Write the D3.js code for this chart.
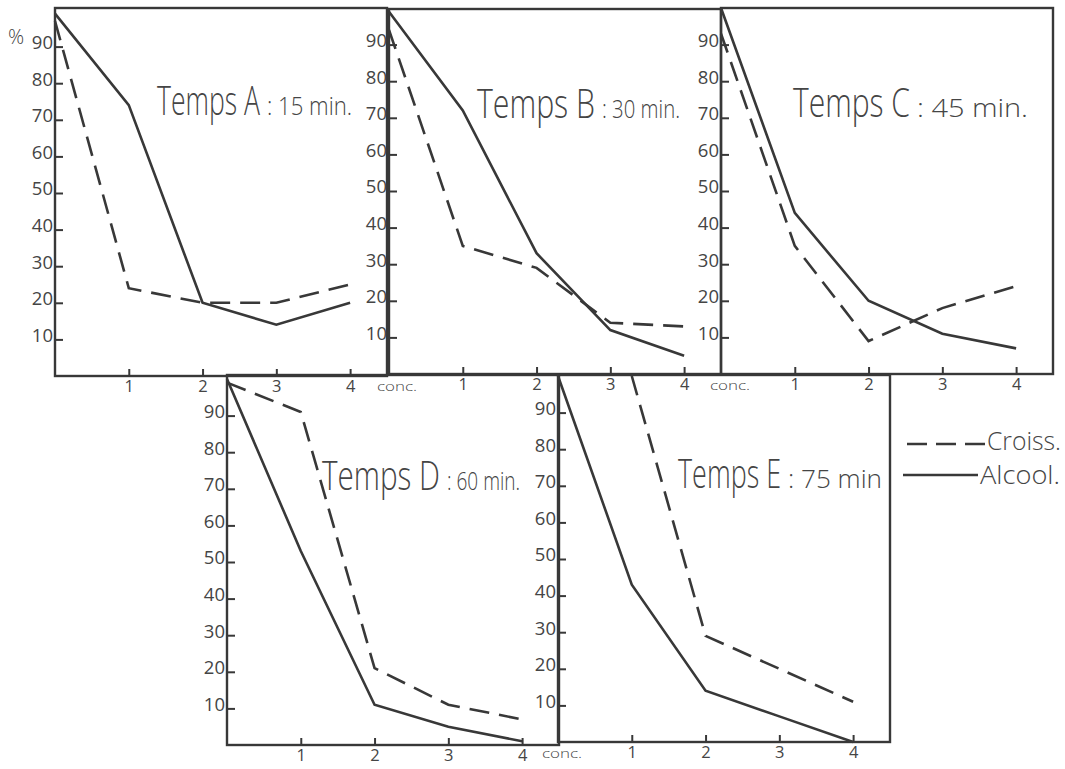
<!DOCTYPE html>
<html>
<head>
<meta charset="utf-8">
<script src="https://cdn.jsdelivr.net/npm/d3@7"></script>
<style>
  html, body { margin: 0; padding: 0; background: #fff; }
  svg { display: block; }
  text { font-family: "Open Sans", "Liberation Sans Narrow", "DejaVu Sans Condensed", sans-serif; font-weight: 300; fill: #454545; }
  .num { font-family: "Open Sans", "Liberation Sans", sans-serif; font-weight: 400; }
</style>
</head>
<body>
<svg id="chart" width="1065" height="769"></svg>
<script>
// ---------- data ----------
const concs = [0, 1, 2, 3, 4];
const xTickValues = [1, 2, 3, 4];
const yTickValues = [10, 20, 30, 40, 50, 60, 70, 80, 90];
const panelLetters = ["A", "B", "C", "D", "E"];
const panelTimes = ["15 min.", "30 min.", "45 min.", "60 min.", "75 min"];
const seriesNames = ["Croiss.", "Alcool."];
const concLabel = "conc.";

// Croissance (dashed), % by concentration 0..4
const croissA = [97, 24, 20, 20, 25];
const croissB = [94, 35, 29, 14, 13];
const croissC = [93, 35, 9, 18, 24];
const croissD = [99, 91, 21, 11, 7];
const croissE = [null, 100, 29, 20, 11];
// Alcool (solid)
const alcoolA = [99, 74, 20, 14, 20];
const alcoolB = [99, 72, 33, 12, 5];
const alcoolC = [100, 44, 20, 11, 7];
const alcoolD = [100, 53, 11, 5, 1];
const alcoolE = [100, 43, 14, 7, 0];

const croissAll = [croissA, croissB, croissC, croissD, croissE];
const alcoolAll = [alcoolA, alcoolB, alcoolC, alcoolD, alcoolE];

// ---------- layout ----------
const boxes = [
  {left: 55,  top: 8,   bottom: 376, title: [157, 267, 352, 115], conc: [377, 391]},
  {left: 389, top: 9,   bottom: 374, title: [477, 602, 680, 118], conc: [710, 390]},
  {left: 721, top: 8,   bottom: 374, title: [793, 917, 1028, 117], conc: null},
  {left: 227, top: 375, bottom: 745, title: [322, 447, 520, 490], conc: [542, 758]},
  {left: 558, top: 375, bottom: 742, title: [678, 788, 882, 488], conc: null}
];
const W = 332;
const INK = "#383838";

const svg = d3.select("#chart");

boxes.forEach((b, i) => {
  const x = d3.scaleLinear().domain([0, 4.5]).range([b.left, b.left + W]);
  const y = d3.scaleLinear().domain([0, 100]).range([b.bottom, b.bottom - 366]);
  const g = svg.append("g");

  // frame
  g.append("rect")
    .attr("x", b.left).attr("y", b.top)
    .attr("width", W).attr("height", b.bottom - b.top)
    .attr("fill", "none").attr("stroke", INK).attr("stroke-width", 2.4);

  // y axis
  const ya = g.append("g").attr("transform", `translate(${b.left},0)`)
    .call(d3.axisLeft(y).tickValues(yTickValues).tickSize(-8).tickPadding(2));
  ya.select(".domain").remove();
  ya.selectAll(".tick line").attr("stroke", INK).attr("stroke-width", 2);
  ya.selectAll(".tick text").attr("class", "num").attr("font-size", 18.5).attr("dy", "0.1em")
    .attr("fill", "#4a4a4a");

  // x axis
  const xa = g.append("g").attr("transform", `translate(0,${b.bottom})`)
    .call(d3.axisBottom(x).tickValues(xTickValues).tickFormat(d3.format("d"))
      .tickSize(-7).tickPadding(4));
  xa.select(".domain").remove();
  xa.selectAll(".tick line").attr("stroke", INK).attr("stroke-width", 2);
  xa.selectAll(".tick text").attr("class", "num").attr("font-size", 16.5).attr("fill", "#4a4a4a");

  if (b.conc) {
    g.append("text").attr("x", b.conc[0]).attr("y", b.conc[1])
      .attr("font-size", 12).attr("fill", "#555")
      .attr("textLength", 40).attr("lengthAdjust", "spacingAndGlyphs")
      .text(concLabel);
  }

  // lines
  const line = d3.line()
    .defined(d => d[1] !== null)
    .x(d => x(d[0])).y(d => y(d[1]));

  g.append("path")
    .datum(concs.map((c, k) => [c, croissAll[i][k]]))
    .attr("d", line).attr("fill", "none")
    .attr("stroke", INK).attr("stroke-width", 2.6)
    .attr("stroke-dasharray", "20,10");

  g.append("path")
    .datum(concs.map((c, k) => [c, alcoolAll[i][k]]))
    .attr("d", line).attr("fill", "none")
    .attr("stroke", INK).attr("stroke-width", 2.6);

  // title
  const [t0, t1, t2, ty] = b.title;
  const tt = g.append("text").attr("x", t0).attr("y", ty);
  tt.append("tspan").attr("font-size", 40)
    .attr("textLength", t1 - t0 - 7).attr("lengthAdjust", "spacingAndGlyphs")
    .text("Temps " + panelLetters[i]);
  tt.append("tspan").attr("x", t1).attr("font-size", 25)
    .attr("textLength", t2 - t1).attr("lengthAdjust", "spacingAndGlyphs")
    .text(": " + panelTimes[i]);
});

// percent sign
svg.append("text").attr("x", 8).attr("y", 44)
  .attr("font-size", 20).attr("fill", "#555")
  .text("%");

// legend
const legend = [
  {name: seriesNames[0], x1: 907, x2: 985, y: 444, dash: "20,9", tx: 987, ty: 450, tw: 74},
  {name: seriesNames[1], x1: 903, x2: 978, y: 475, dash: null, tx: 980, ty: 484, tw: 80}
];
legend.forEach(l => {
  svg.append("line").attr("x1", l.x1).attr("x2", l.x2).attr("y1", l.y).attr("y2", l.y)
    .attr("stroke", INK).attr("stroke-width", 2.6)
    .attr("stroke-dasharray", l.dash);
  svg.append("text").attr("x", l.tx).attr("y", l.ty)
    .attr("font-size", 25)
    .attr("textLength", l.tw).attr("lengthAdjust", "spacingAndGlyphs")
    .text(l.name);
});
</script>
</body>
</html>
